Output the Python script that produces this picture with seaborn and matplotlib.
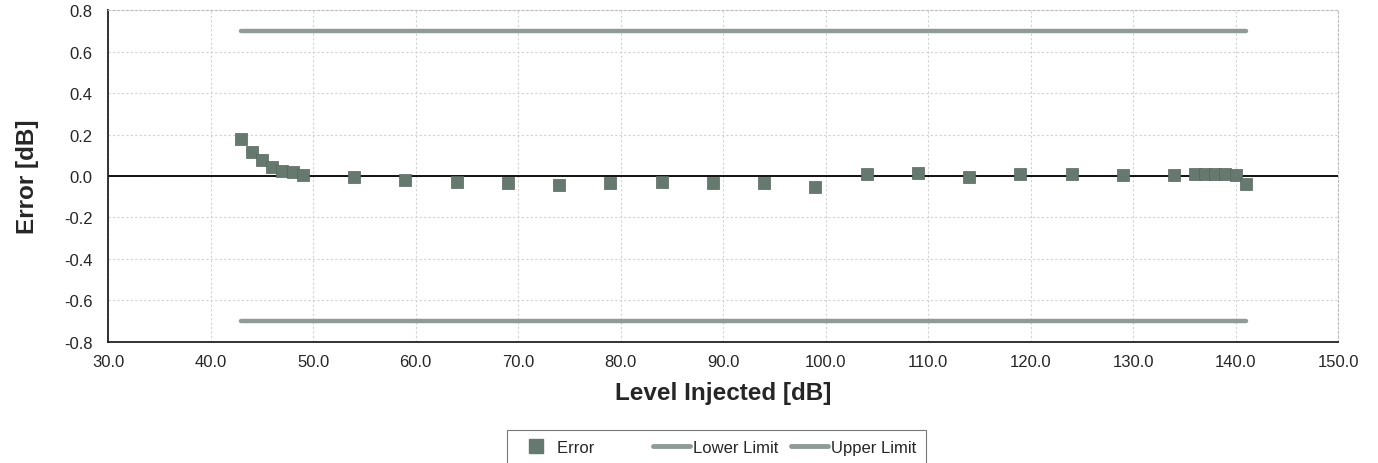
import numpy as np
import pandas as pd
import seaborn as sns
import matplotlib.pyplot as plt
from matplotlib.lines import Line2D

# measured points
level = [43, 44, 45, 46, 47, 48, 49, 54, 59, 64, 69, 74, 79, 84, 89, 94, 99,
         104, 109, 114, 119, 124, 129, 134, 136, 137, 138, 139, 140, 141]
error = [0.18, 0.115, 0.075, 0.043, 0.022, 0.02, 0.005, -0.005, -0.02, -0.03,
         -0.033, -0.045, -0.035, -0.03, -0.033, -0.035, -0.055,
         0.01, 0.015, -0.005, 0.008, 0.008, 0.005, 0.005,
         0.012, 0.012, 0.01, 0.008, 0.005, -0.04]

limit_x = [43, 141]
lower_limit = [-0.7, -0.7]
upper_limit = [0.7, 0.7]

xticks = [30, 40, 50, 60, 70, 80, 90, 100, 110, 120, 130, 140, 150]
yticks = [-0.8, -0.6, -0.4, -0.2, 0.0, 0.2, 0.4, 0.6, 0.8]

df = pd.DataFrame({"level": level, "error": error})
lim = pd.DataFrame({"level": limit_x, "lower": lower_limit, "upper": upper_limit})

sns.set_style("white")
plt.rcParams['font.family'] = ['Liberation Sans', 'DejaVu Sans']

mark_col = "#66796f"
lim_col = "#8e9b96"

fig, ax = plt.subplots(figsize=(13.78, 4.64), dpi=100)
fig.subplots_adjust(left=0.0784, right=0.971, top=0.976, bottom=0.261)

sns.lineplot(data=lim, x="level", y="lower", ax=ax, color=lim_col, lw=3.2,
             solid_capstyle="round", zorder=2)
sns.lineplot(data=lim, x="level", y="upper", ax=ax, color=lim_col, lw=3.2,
             solid_capstyle="round", zorder=2)
ax.axhline(0, color="black", lw=1.3, zorder=1)
sns.scatterplot(data=df, x="level", y="error", ax=ax, marker="s", s=85,
                color=mark_col, edgecolor="#55655f", linewidth=0.5, zorder=3)

ax.set_xlim(30, 150)
ax.set_ylim(-0.8, 0.8)
ax.set_xticks(xticks)
ax.set_xticklabels([f"{v:.1f}" for v in xticks])
ax.set_yticks(yticks)
ax.set_yticklabels([f"{v:.1f}" for v in yticks])
ax.tick_params(axis="x", labelsize=12, length=0, pad=9)
ax.tick_params(axis="y", labelsize=12, length=0, pad=11)
ax.grid(True, color="#d2d2d2", linestyle=(0, (2, 2)), lw=0.8)
ax.set_axisbelow(True)

for s in ["top", "right"]:
    ax.spines[s].set_color("#bdbdbd")
    ax.spines[s].set_linestyle((0, (2, 2)))
    ax.spines[s].set_linewidth(0.8)
for s in ["left", "bottom"]:
    ax.spines[s].set_color("#222222")
    ax.spines[s].set_linewidth(1.3)

ax.set_xlabel("Level Injected [dB]", fontsize=17.5, fontweight="bold", labelpad=8)
ax.set_ylabel("Error [dB]", fontsize=17.5, fontweight="bold", labelpad=18)

handles = [
    Line2D([], [], marker="s", ls="none", color=mark_col, markersize=10),
    Line2D([], [], color=lim_col, lw=3.5, solid_capstyle="round"),
    Line2D([], [], color=lim_col, lw=3.5, solid_capstyle="round"),
]
leg = fig.legend(handles, ["Error", "Lower Limit", "Upper Limit"], ncol=3,
                 loc="upper center", bbox_to_anchor=(0.52, 0.071), fontsize=12,
                 frameon=True, fancybox=False, handlelength=2.2, handletextpad=0.15,
                 columnspacing=0.8, borderpad=0.6, borderaxespad=0.0)
leg.get_frame().set_edgecolor("#555555")
leg.get_frame().set_linewidth(0.8)
# widen the first column a bit like the original
leg.get_texts()[0].set_text("Error          ")

fig.savefig("out.png", dpi=100)
